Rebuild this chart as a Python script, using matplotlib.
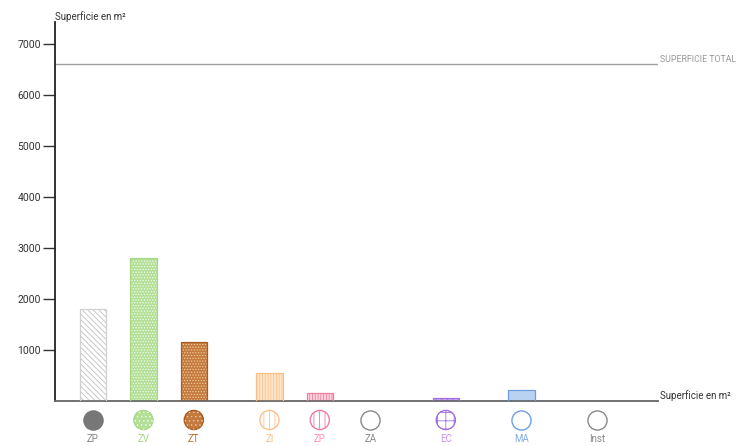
import matplotlib
matplotlib.use("Agg")
import matplotlib.pyplot as plt
from matplotlib import font_manager as fm
from matplotlib.transforms import blended_transform_factory

categories = ["ZP", "ZV", "ZT", "ZI", "ZP", "ZA", "EC", "MA", "Inst"]
values = [1800, 2800, 1150, 540, 150, 0, 50, 210, 0]
total_surface = 6600
yticks = [1000, 2000, 3000, 4000, 5000, 6000, 7000]

# layout (slot positions along the axis) and styles
slots = [0, 1, 2, 3.5, 4.5, 5.5, 7, 8.5, 10]
face = ["white", "#b3df97", "#c47a3c", "#ffe6cc", "#ffd6e0", "white", "#c8a8f4", "#b9d2f2", "white"]
edge = ["#d0d0d0", "#a6d886", "#a85c20", "#ffc088", "#f07ca0", "#888888", "#a070e0", "#6e9fe0", "#888888"]
hatches = ["\\\\\\\\\\\\", "......", "......", "||||||", "||||||", None, "+++", None, None]
hatchcol = ["#c0c0c0", "#f4fbef", "#f0c8a0", "#ffc088", "#f07ca0", "#888888", "#a070e0", "#6e9fe0", "#888888"]
txtcol = ["#888888", "#a6d886", "#c0702a", "#ffc08a", "#ff90b0", "#888888", "#c890f0", "#80aee8", "#888888"]
marker_face = ["#777777", "#b3df97", "#c47a3c", "white", "white", "white", "white", "white", "white"]
marker_hatch = [None, "....", "....", "|||", "|||", None, "++", None, None]

names = {f.name for f in fm.fontManager.ttflist}
fam = "Liberation Sans Narrow" if "Liberation Sans Narrow" in names else "Roboto"
plt.rcParams["font.family"] = [fam, "DejaVu Sans"]
plt.rcParams["hatch.linewidth"] = 0.6

fig = plt.figure(figsize=(7.45, 4.46), dpi=100)
ax = fig.add_axes([55 / 745, 45 / 446, 603 / 745, 379 / 446])
ax.set_xlim(-0.754, 11.21)
ax.set_ylim(0, 7430)

for i, (x, v) in enumerate(zip(slots, values)):
    if v <= 0:
        continue
    b = ax.bar(x, v, width=0.52, facecolor=face[i], edgecolor=hatchcol[i], linewidth=0,
               hatch=hatches[i], zorder=2)
    ax.bar(x, v, width=0.52, facecolor="none", edgecolor=edge[i], linewidth=0.9, zorder=3)

ax.axhline(total_surface, color="#a0a0a0", linewidth=1.0, zorder=1)

for s in ["top", "right"]:
    ax.spines[s].set_visible(False)
ax.spines["left"].set_color("#222222")
ax.spines["left"].set_linewidth(1.3)
ax.spines["bottom"].set_color("#666666")
ax.spines["bottom"].set_linewidth(1.3)

ax.set_yticks(yticks)
ax.set_yticklabels([str(t) for t in yticks], fontsize=7.5, color="#333333")
ax.tick_params(axis="y", length=9, width=1.0, color="#333333", pad=1)
ax.set_xticks([])

ax.text(0, 1.0, "Superficie en m²", transform=ax.transAxes, fontsize=7,
        color="#333333", ha="left", va="bottom")
ax.text(1.003, 0.0, "Superficie en m²", transform=ax.transAxes, fontsize=7,
        color="#333333", ha="left", va="bottom")
ax.text(1.003, total_surface, "SUPERFICIE TOTAL",
        transform=blended_transform_factory(ax.transAxes, ax.transData),
        fontsize=6.3, color="#999999", ha="left", va="bottom")

tr = blended_transform_factory(ax.transData, fig.transFigure)
for i, (x, c) in enumerate(zip(slots, categories)):
    ax.scatter([x], [26 / 446], s=190, marker="o", transform=tr,
               facecolors=marker_face[i], edgecolors=edge[i] if i != 0 else "#777777",
               linewidths=1.0, hatch=marker_hatch[i], clip_on=False, zorder=4)
    if marker_hatch[i] and i in (1, 2):
        ax.scatter([x], [26 / 446], s=190, marker="o", transform=tr,
                   facecolors="none", edgecolors=hatchcol[i], linewidths=0,
                   hatch=marker_hatch[i], clip_on=False, zorder=5)
    ax.text(x, 7 / 446, c, transform=tr, fontsize=7, color=txtcol[i],
            ha="center", va="center", clip_on=False)

fig.savefig("out.png", dpi=100)
